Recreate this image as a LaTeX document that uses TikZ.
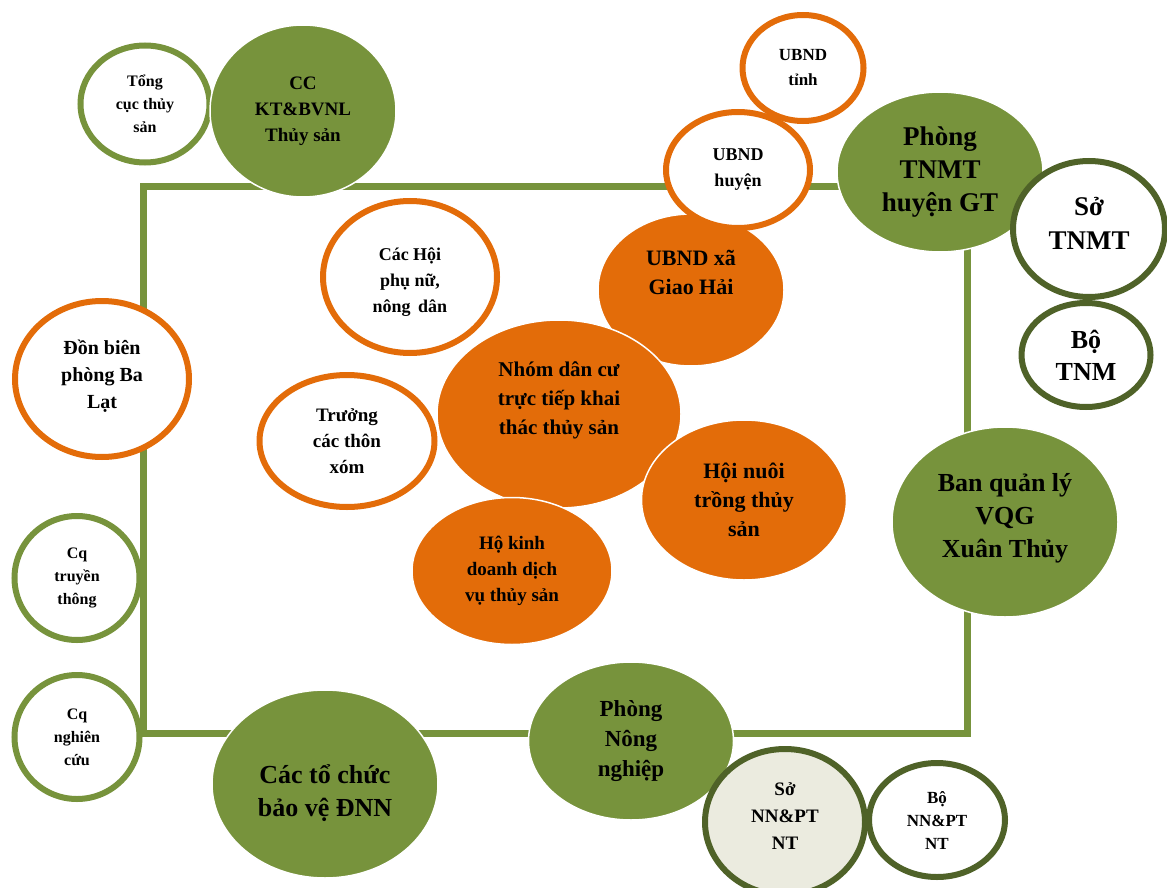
\documentclass[tikz,border=0pt]{standalone}
\usepackage{fontspec}
\setmainfont{Liberation Serif}
\usetikzlibrary{shapes.geometric}

\definecolor{grn}{HTML}{77933C}
\definecolor{dkgrn}{HTML}{4F6228}
\definecolor{org}{HTML}{E36C09}
\definecolor{pale}{HTML}{EBEBDF}

\begin{document}
\begin{tikzpicture}[
  x=1pt, y=-1pt,
  bub/.style={ellipse, inner sep=0pt, align=center},
  txt/.style 2 args={font=\fontsize{#1}{#2}\selectfont\bfseries},
  grnfill/.style={bub, fill=grn, draw=white, line width=1.5pt},
  orgfill/.style={bub, fill=org, draw=white, line width=1.5pt},
  grnring/.style={bub, fill=white, draw=grn, line width=6pt},
  orgring/.style={bub, fill=white, draw=org, line width=6pt},
  dkring/.style={bub, fill=white, draw=dkgrn, line width=6pt}
]
  \useasboundingbox (0,0) rectangle (1167,888);

  % frame behind everything
  \coordinate (fnw) at (143,186);
  \coordinate (fse) at (967,733);
  \draw[grn, line width=7pt] (fnw) rectangle (fse);

  % left column
  \node[grnring, minimum width=129pt, minimum height=117pt, txt={16}{23}] (tcts) at (145,104)
    {Tổng\\cục thủy\\sản};
  \node[grnfill, minimum width=186pt, minimum height=172pt, txt={19}{26}] (cckt) at (303,111)
    {CC\\KT\&BVNL\\Thủy sản};
  \node[orgring, minimum width=174pt, minimum height=156pt, txt={20}{27}] (dbp) at (102,379)
    {Đồn biên\\phòng Ba\\Lạt\\[-17pt]};
  \node[grnring, minimum width=125pt, minimum height=124pt, txt={16}{23}] (cqtt) at (77,578)
    {Cq\\truyền\\thông};
  \node[grnring, minimum width=125pt, minimum height=124pt, txt={16}{23}] (cqnc) at (77,737)
    {Cq\\nghiên\\cứu};
  \node[grnfill, minimum width=226pt, minimum height=188pt, txt={26}{33}] (tcbv) at (325,784)
    {\rule{0pt}{38pt}Các tổ chức\\bảo vệ ĐNN};

  % inner group
  \node[orgfill, minimum width=186pt, minimum height=152pt, txt={22}{29}] (ubxa) at (691,290)
    {UBND xã\\Giao Hải\\[6pt]};
  \node[orgring, minimum width=174pt, minimum height=152pt, txt={18}{26}] (hoi) at (410,277)
    {\rule{0pt}{23pt}Các Hội\\phụ nữ,\\nông\, dân};
  \node[orgring, minimum width=175pt, minimum height=132pt, txt={19}{26}] (truong) at (347,441)
    {Trưởng\\các thôn\\xóm};
  \node[orgfill, minimum width=244pt, minimum height=188pt, txt={21}{29}] (nhom) at (559,414)
    {Nhóm dân cư\\trực tiếp khai\\thác thủy sản\\[2pt]};
  \node[orgfill, minimum width=205pt, minimum height=160pt, txt={22}{29}] (hoinuoi) at (744,500)
    {Hội nuôi\\trồng thủy\\sản};
  \node[orgfill, minimum width=200pt, minimum height=147pt, txt={19}{26}] (hokd) at (512,571)
    {Hộ kinh\\doanh dịch\\vụ thủy sản};

  % top right
  \node[orgring, minimum width=121pt, minimum height=106pt, txt={17}{25}] (ubtinh) at (803,68)
    {UBND\\tỉnh};
  \node[orgring, minimum width=144pt, minimum height=116pt, txt={18}{26}] (ubhuyen) at (738,170)
    {UBND\\huyện};
  \node[grnfill, minimum width=206pt, minimum height=160pt, txt={27}{33}] (ptnmt) at (940,172)
    {Phòng\\TNMT\\huyện GT};
  \node[dkring, minimum width=152pt, minimum height=136pt, txt={27}{34}] (stnmt) at (1089,229)
    {Sở\\TNMT\\[-22pt]};
  \node[dkring, minimum width=129pt, minimum height=104pt, txt={26}{32}] (btnm) at (1086,355)
    {Bộ\\TNM};
  \node[grnfill, minimum width=226pt, minimum height=190pt, txt={26}{33}] (bql) at (1005,522)
    {Ban quản lý\\VQG\\Xuân Thủy\\[-20pt]};

  % bottom right
  \node[grnfill, minimum width=205pt, minimum height=158pt, txt={23}{30}] (pnn) at (631,741)
    {Phòng\\Nông\\nghiệp};
  \node[dkring, fill=pale, minimum width=160pt, minimum height=146pt, txt={19}{27}] (snn) at (785,822)
    {Sở\\NN\&PT\\NT\\[-15pt]};
  \node[dkring, minimum width=136pt, minimum height=114pt, txt={17}{23}] (bnn) at (937,820)
    {Bộ\\NN\&PT\\NT};
\end{tikzpicture}
\end{document}
